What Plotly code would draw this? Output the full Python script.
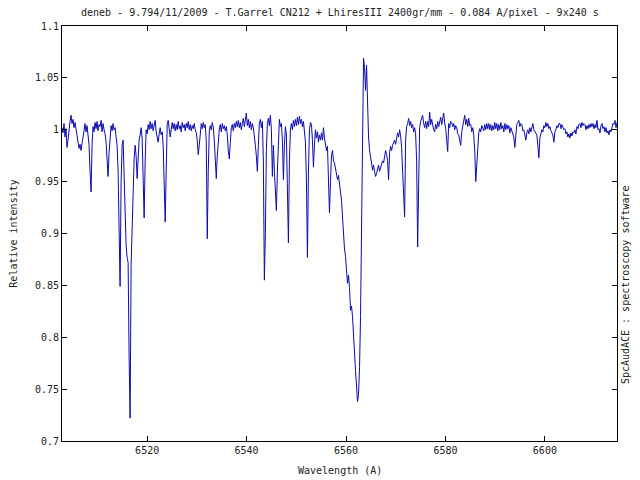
import numpy as np
import plotly.graph_objects as go

# Spectrum sampling (FITS-like header: start wavelength and step, in Angstrom)
CRVAL1 = 6502.87
CDELT1 = 0.2015

# Relative intensity, one sample per step
INTENSITY = [
    1.002, 0.997, 1.006, 0.993, 1.001, 0.983, 0.990, 1.004, 1.008, 1.014,
    1.006, 1.010, 1.002, 1.007, 1.000, 0.996, 0.988, 0.982, 0.986, 0.980,
    0.987, 0.992, 0.999, 1.006, 0.998, 1.004, 0.996, 0.985, 0.960, 0.940,
    0.985, 1.003, 0.998, 1.007, 1.001, 1.008, 0.999, 1.005, 1.003, 1.009,
    0.998, 1.006, 1.000, 0.996, 0.988, 0.975, 0.955, 0.978, 0.995, 1.004,
    0.999, 1.006, 1.000, 1.002, 0.993, 0.985, 0.960, 0.910, 0.849, 0.950,
    0.985, 0.990, 0.950, 0.900, 0.888, 0.877, 0.872, 0.780, 0.722, 0.870,
    0.910, 0.935, 0.972, 0.985, 0.975, 0.953, 0.975, 0.990, 0.995, 1.002,
    0.992, 0.950, 0.915, 0.970, 1.000, 0.996, 1.005, 1.000, 1.008, 1.001,
    1.006, 0.999, 1.004, 1.009, 0.998, 0.993, 0.988, 0.996, 1.002, 0.995,
    0.998, 0.985, 0.950, 0.911, 0.960, 1.005, 1.009, 1.002, 0.993, 1.000,
    1.007, 1.001, 1.006, 0.999, 1.005, 1.000, 1.008, 1.001, 1.004, 0.998,
    1.007, 1.002, 1.005, 0.999, 1.006, 1.002, 1.008, 1.000, 1.005, 0.999,
    1.004, 1.001, 1.006, 1.000, 0.997, 0.990, 0.976, 0.985, 0.998, 1.006,
    1.001, 1.007, 1.002, 1.005, 0.990, 0.895, 0.960, 0.998, 1.004, 1.000,
    1.007, 1.003, 0.990, 0.970, 0.953, 0.975, 0.992, 1.000, 1.005, 0.998,
    1.006, 1.001, 1.004, 0.999, 1.003, 0.995, 0.980, 0.972, 0.988, 1.002,
    1.005, 0.999, 1.006, 1.002, 1.008, 1.003, 1.009, 1.002, 1.007, 1.000,
    1.006, 1.011, 1.003, 1.009, 1.016, 1.004, 1.010, 1.002, 1.008, 1.000,
    1.006, 1.002, 0.995, 0.985, 0.975, 0.960, 0.985, 1.006, 1.010, 1.002,
    1.008, 0.970, 0.855, 0.900, 0.980, 1.006, 1.011, 1.004, 1.014, 1.000,
    0.955, 0.985, 0.960, 0.930, 0.922, 0.960, 0.995, 1.010, 1.003, 1.006,
    0.990, 0.952, 0.985, 1.003, 0.995, 0.950, 0.891, 0.970, 1.000, 1.006,
    1.000, 1.009, 1.003, 1.010, 1.004, 1.012, 1.005, 1.013, 1.006, 1.010,
    1.003, 1.008, 0.995, 0.988, 0.950, 0.877, 0.960, 1.000, 1.007, 1.005,
    0.990, 0.964, 0.985, 1.000, 0.992, 0.998, 0.988, 0.995, 0.990, 0.997,
    0.990, 1.002, 0.992, 0.985, 0.980, 0.984, 0.960, 0.920, 0.950, 0.975,
    0.980, 0.970, 0.968, 0.962, 0.958, 0.952, 0.956, 0.945, 0.940, 0.932,
    0.916, 0.890, 0.885, 0.878, 0.868, 0.852, 0.860, 0.848, 0.826, 0.830,
    0.820, 0.794, 0.785, 0.768, 0.750, 0.738, 0.745, 0.771, 0.820, 0.900,
    0.980, 1.069, 1.060, 1.038, 1.062, 1.019, 0.993, 0.980, 0.971, 0.968,
    0.961, 0.966, 0.960, 0.955, 0.958, 0.962, 0.966, 0.960, 0.964, 0.966,
    0.970, 0.968, 0.975, 0.980, 0.976, 0.970, 0.952, 0.978, 0.984, 0.980,
    0.985, 0.988, 0.990, 0.986, 0.994, 0.997, 0.993, 1.000, 0.994, 0.983,
    0.960, 0.930, 0.916, 0.990, 1.003, 1.006, 1.011, 1.004, 1.008, 1.002,
    1.005, 0.998, 1.002, 0.996, 0.970, 0.887, 0.960, 1.002, 1.008, 1.012,
    1.014, 1.006, 1.002, 1.008, 1.001, 1.008, 1.003, 1.017, 1.005, 1.010,
    1.004, 1.000, 0.998, 1.005, 1.001, 1.008, 1.003, 1.010, 1.012, 1.005,
    1.011, 1.016, 1.006, 1.001, 0.990, 0.979, 1.006, 1.002, 1.008, 1.007,
    1.003, 1.006, 1.000, 1.004, 1.002, 0.996, 0.995, 0.990, 0.985, 0.998,
    1.004, 1.009, 1.014, 1.005, 1.010, 1.003, 1.011, 1.004, 1.005, 0.998,
    1.002, 0.995, 0.980, 0.950, 0.970, 0.990, 0.997, 1.001, 0.998, 1.004,
    1.000, 0.999, 1.005, 1.000, 1.006, 1.001, 1.006, 1.000, 1.005, 0.999,
    1.004, 1.000, 1.007, 1.001, 1.006, 0.999, 1.005, 1.000, 1.007, 1.001,
    1.004, 0.998, 1.006, 1.000, 1.005, 1.001, 1.004, 0.997, 1.002, 0.998,
    0.995, 0.993, 0.983, 1.000, 1.005, 1.007, 1.009, 1.003, 1.006, 1.005,
    0.999, 1.000, 0.995, 0.990, 0.997, 1.000, 0.996, 1.002, 0.998, 1.004,
    1.006, 1.000, 0.998, 0.996, 0.995, 0.985, 0.973, 0.992, 0.996, 1.000,
    0.998, 1.004, 1.002, 1.007, 1.003, 1.006, 1.001, 1.003, 0.999, 0.996,
    0.995, 0.988, 0.998, 1.000, 1.004, 1.002, 1.006, 1.006, 1.001, 1.005,
    1.002, 1.000, 1.001, 0.996, 0.998, 0.993, 0.996, 0.992, 0.997, 0.994,
    0.998, 0.997, 1.000, 0.996, 1.003, 1.001, 1.005, 1.006, 1.002, 1.007,
    1.004, 1.006, 1.005, 1.000, 1.004, 1.001, 1.005, 1.002, 1.006, 1.003,
    1.006, 1.001, 1.005, 1.002, 1.009, 1.000, 1.001, 0.997, 1.004, 1.006,
    1.001, 1.003, 0.998, 1.002, 0.997, 0.999, 0.995, 1.000, 0.998, 1.002,
    1.006, 1.005, 1.009, 1.002, 1.007,
]

X_TICKS = [6520, 6540, 6560, 6580, 6600]
Y_TICKS = [0.7, 0.75, 0.8, 0.85, 0.9, 0.95, 1.0, 1.05, 1.1]

TITLE = "deneb - 9.794/11/2009 - T.Garrel CN212 + LhiresIII 2400gr/mm - 0.084 A/pixel - 9x240 s"
X_LABEL = "Wavelength (A)"
Y_LABEL = "Relative intensity"
SIDE_LABEL = "SpcAudACE : spectroscopy software"

wavelength = CRVAL1 + CDELT1 * np.arange(len(INTENSITY))

FONT = "DejaVu Sans Mono"
TXT = "#222222"

fig = go.Figure()
fig.add_trace(go.Scatter(
    x=wavelength, y=INTENSITY, mode="lines",
    line=dict(color="#0a0ab0", width=1),
    showlegend=False, hoverinfo="skip",
))

axis_common = dict(
    showgrid=False, zeroline=False, showline=True, linecolor="black",
    linewidth=1, mirror="ticks", ticks="inside", ticklen=5,
    tickcolor="black", tickwidth=1,
    tickfont=dict(family=FONT, size=10, color=TXT),
)

fig.update_xaxes(range=[wavelength[0], wavelength[-1]], tickvals=X_TICKS, **axis_common)
fig.update_yaxes(range=[0.7, 1.1], tickvals=Y_TICKS, **axis_common)

fig.update_layout(
    width=640, height=480,
    margin=dict(l=62, r=23, t=26, b=39),
    paper_bgcolor="white", plot_bgcolor="white",
    font=dict(family=FONT, size=10, color=TXT),
    annotations=[
        dict(text=TITLE, xref="paper", yref="paper", x=0.5, y=1.0337,
             xanchor="center", yanchor="middle", showarrow=False,
             font=dict(family=FONT, size=10, color=TXT)),
        dict(text=X_LABEL, xref="paper", yref="paper", x=0.5, y=-0.0699,
             xanchor="center", yanchor="middle", showarrow=False,
             font=dict(family=FONT, size=10, color=TXT)),
        dict(text=Y_LABEL, xref="paper", yref="paper", x=-0.088, y=0.5,
             xanchor="center", yanchor="middle", showarrow=False, textangle=-90,
             font=dict(family=FONT, size=10, color=TXT)),
        dict(text=SIDE_LABEL, xref="paper", yref="paper", x=1.0144, y=0.378,
             xanchor="center", yanchor="middle", showarrow=False, textangle=-90,
             font=dict(family=FONT, size=10, color=TXT)),
    ],
)

fig.write_html(
    "out.html",
    config={"displayModeBar": False},
    post_script="document.body.style.margin='0';document.body.style.padding='0';",
)
